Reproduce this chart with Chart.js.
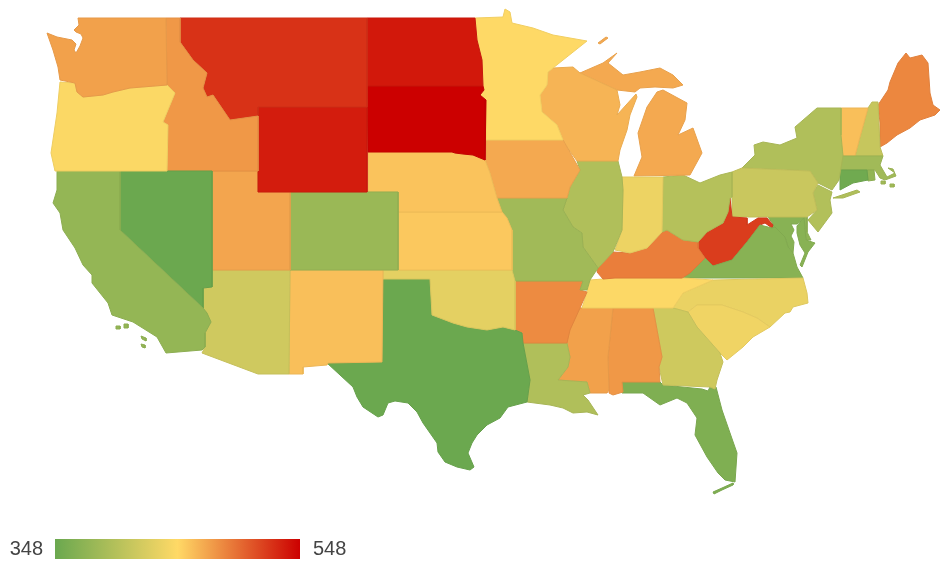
<!DOCTYPE html>
<html><head><meta charset="utf-8">
<script src="https://cdn.jsdelivr.net/npm/chart.js@4/dist/chart.umd.min.js"></script>
<style>
html,body{margin:0;padding:0;background:#fff;overflow:hidden}
#wrap{position:relative;width:948px;height:566px}
canvas{position:absolute;filter:blur(.55px)}
#map{left:0;top:0}
#legend{left:0;top:525px}
</style></head><body>
<div id="wrap"><canvas id="map" width="948" height="566"></canvas><canvas id="legend" width="360" height="41"></canvas></div>
<script>
// Colour axis
const colorDomain=[348,448,548];
const colorStops=['#6aa84f','#ffd966','#cc0000'];
const legendTicks=[348,548];

// Value per shape, read from the shade of each state (islands repeat their state's value)
const stateCodes=['WA','OR','CA','NV','ID','MT','WY','UT','CO','AZ','NM','ND','SD','NE','KS','OK','TX','MN','IA','MO','AR','LA','WI','IL','IN','MI','MIU','ROY','OH','KY','TN','MS','AL','GA','FL','KEYS','SC','NC','VA','WV','PA','NY','LI','MD','MDE','DE','NJ','CT','RI','MA','NAN','MV','VT','NH','ME','CAI1','CAI2','CAI3','CAI4'];
const stateValues=[474,445,376,349,478,525,535,472,380,416,460,537,548,458,456,430,349,447,470,385,484,395,465,395,436,470,470,470,398,490,446,474,478,415,362,362,438,434,368,520,412,395,395,368,368,372,396,352,375,385,385,385,460,410,486,376,376,376,376];

// State outlines in map units (flat x,y lists)
const WA=[78,18,166,18,167,85,130,88,113,92,103,95,83,97,77,92,75,83,60,80,58,67,53,50,47,33,57,37,72,40,76,44,74,50,76,53,80,46,83,38,81,34,76,32,74,30,79,25];
const OR=[60,82,75,83,77,92,83,97,103,95,113,92,130,88,167,85,175,93,163,122,168,125,167,171,55,171,51,153,57,113];
const CA=[57,171,120,171,120,230,203,308,207,313,211,322,205,333,205,347,202,350,166,353,157,337,133,322,112,315,108,303,92,283,92,275,83,265,75,248,63,230,60,213,53,203,57,190];
const NV=[120,171,212,171,212,287,203,288,203,308,120,230];
const ID=[166,18,180,18,180,42,193,60,207,73,203,88,207,97,213,95,230,120,258,116,258,171,167,171,168,125,163,122,175,93,167,85];
const MT=[180,18,367,18,367,107,258,107,258,116,230,120,213,95,207,97,203,88,207,73,193,60,180,42];
const WY=[258,107,367,107,367,192,258,192];
const UT=[212,171,258,171,258,192,290,192,290,270,212,270];
const CO=[290,192,398,192,398,270,290,270];
const AZ=[212,270,290,270,289,374,258,374,202,353,205,347,205,333,211,322,203,308,203,288,212,287];
const NM=[290,270,383,270,382,362,328,363,327,365,303,367,303,374,289,374];
const ND=[367,18,475,18,477,40,482,60,483,86,367,86];
const SD=[367,86,483,86,484,90,480,95,486,100,485,147,485,160,473,155,463,154,455,153,452,152,368,152];
const NE=[368,152,452,152,455,153,463,154,473,155,485,160,490,173,497,198,502,212,398,212,398,192,368,192];
const KS=[398,212,502,212,507,218,512,230,512,270,398,270];
const OK=[383,270,512,270,515,281,515,330,503,327,487,330,467,327,453,323,432,315,430,279,383,279];
const TX=[383,279,430,279,432,315,453,323,467,327,487,330,503,327,515,330,522,333,523,343,530,380,527,402,508,407,500,418,487,425,477,435,472,443,468,453,474,467,470,470,457,467,445,462,438,452,437,443,423,423,417,412,408,403,395,401,388,403,383,415,378,417,363,407,357,397,353,387,327,363,382,362];
const MN=[475,18,503,17,505,9,510,12,512,23,533,28,553,35,587,41,553,68,548,72,547,85,540,95,542,112,557,125,563,140,486,140,486,100,480,95,484,90,483,85,482,60,477,40];
const IA=[486,140,563,140,567,147,580,170,570,187,567,198,497,198,490,173,485,160];
const MO=[497,198,567,198,563,210,573,227,582,233,583,247,598,268,590,280,587,290,580,290,583,281,515,281,512,270,512,230,507,218,502,212];
const AR=[515,281,583,281,580,290,587,292,580,308,570,330,567,343,523,343,522,333,515,330];
const LA=[523,343,567,343,570,357,568,367,558,380,587,382,590,393,583,395,588,400,598,415,587,412,573,413,563,408,550,405,527,402,530,380];
const WI=[553,68,573,67,580,73,617,90,620,105,617,115,636,94,637,97,630,115,627,130,620,150,618,161,577,161,567,147,563,140,557,125,542,112,540,95,547,85,548,72];
const IL=[567,198,563,210,573,227,582,233,583,247,598,268,613,252,622,230,623,190,622,177,618,161,577,161,580,170,570,187];
const IN=[622,177,663,177,662,232,647,248,630,253,615,250,622,230,623,190];
const MI=[663,90,687,103,685,120,678,135,693,128,702,153,690,175,634,176,642,157,638,133,647,107,657,92];
const MIU=[580,73,603,63,617,53,608,63,623,75,640,72,660,68,673,75,683,85,673,88,655,87,640,88,635,92,617,90];
const ROY=[598,43,606,37,608,38,600,44];
const OH=[663,177,683,175,700,183,720,175,732,172,732,197,730,198,728,212,723,223,707,232,698,242,683,240,667,230,662,232];
const KY=[598,268,613,252,630,253,647,248,662,232,667,230,683,240,698,242,698,248,705,258,690,273,682,278,615,278,603,279,597,272];
const TN=[590,280,603,279,615,278,683,278,713,280,683,293,673,308,582,308,587,292];
const MS=[580,308,613,308,608,357,609,390,607,393,590,393,587,382,558,380,568,367,570,357,567,343,567,333,573,320];
const AL=[613,308,653,308,662,357,659,367,660,382,622,382,623,392,613,395,609,393,609,390,608,357];
const GA=[653,308,673,308,688,312,697,327,720,353,723,362,717,380,715,389,710,387,663,385,659,367,662,357];
const FL=[622,382,660,382,663,385,702,389,708,391,710,387,716,387,722,410,730,433,737,453,735,482,725,480,718,473,707,457,695,435,697,418,687,403,677,398,660,405,643,393,622,393];
const KEYS=[713,492,722,488,733,483,733,485,722,490,714,494];
const SC=[688,312,697,305,722,305,743,312,757,318,770,327,753,337,743,347,727,360,720,353,697,327];
const NC=[713,280,803,278,807,293,808,303,793,307,790,312,785,313,770,327,757,318,743,312,722,305,697,305,688,312,673,308,683,293];
const VA=[683,278,705,258,713,266,732,260,747,242,760,225,772,228,775,227,785,237,788,247,793,253,797,267,803,278];
const WV=[730,198,732,217,747,218,747,225,758,218,767,218,773,225,772,228,765,223,760,225,747,242,732,260,713,266,705,258,698,248,698,242,707,232,723,223,728,212];
const PA=[732,172,742,168,810,171,818,183,813,193,817,210,807,217,732,217];
const NY=[742,168,755,155,754,145,763,142,780,145,797,138,795,127,817,108,841,108,841,135,843,156,839,180,832,190,818,183,810,171];
const LI=[833,198,857,190,860,192,843,198];
const MD=[768,217,805,217,797,224,791,224,794,230,791,236,794,242,793,253,788,247,785,237,775,227,772,228,773,224];
const MDE=[804,217,806,240,815,243,808,252,802,267,800,265,805,253,800,245,797,233,797,226];
const DE=[804,217,807,217,807,232,811,240,806,240];
const NJ=[818,185,832,192,830,200,832,213,818,232,808,220,817,210,813,193];
const CT=[840,170,867,170,868,180,853,183,840,190];
const RI=[867,170,874,170,875,180,868,181];
const MA=[841,156,883,156,880,165,887,177,895,173,888,168,893,169,896,176,885,180,880,178,875,170,840,170];
const NAN=[890,184,894,184,894,187,890,187];
const MV=[881,181,885,181,885,184,881,184];
const VT=[841,108,868,108,860,137,855,156,843,156,840,135];
const NH=[868,108,872,102,878,102,880,147,883,156,855,156,860,137];
const ME=[878,105,888,90,890,82,898,63,906,53,910,58,922,55,928,63,930,93,933,105,940,110,935,115,920,120,910,128,897,135,887,143,880,147,880,123];
const CAI1=[116,326,120,326,120,329,116,329];
const CAI2=[124,324,128,324,128,328,124,328];
const CAI3=[141,336,146,338,146,341,142,339];
const CAI4=[141,344,145,345,145,348,142,347];

const outlines={WA,OR,CA,NV,ID,MT,WY,UT,CO,AZ,NM,ND,SD,NE,KS,OK,TX,MN,IA,MO,AR,LA,WI,IL,IN,MI,MIU,ROY,OH,KY,TN,MS,AL,GA,FL,KEYS,SC,NC,VA,WV,PA,NY,LI,MD,MDE,DE,NJ,CT,RI,MA,NAN,MV,VT,NH,ME,CAI1,CAI2,CAI3,CAI4};

function hex(c){return [1,3,5].map(i=>parseInt(c.substr(i,2),16));}
function shade(v,k){
  let i=v<colorDomain[1]?0:1;
  const t=(v-colorDomain[i])/(colorDomain[i+1]-colorDomain[i]);
  const a=hex(colorStops[i]),b=hex(colorStops[i+1]);
  const c=a.map((p,j)=>Math.round((p+(b[j]-p)*t)*k));
  return `rgb(${c[0]},${c[1]},${c[2]})`;
}
function points(flat){
  const p=[];
  for(let i=0;i<flat.length;i+=2)p.push({x:flat[i],y:flat[i+1]});
  p.push({x:flat[0],y:flat[1]});
  return p;
}
const datasets=stateCodes.map((code,i)=>({
  label:code,
  data:points(outlines[code]),
  showLine:true,fill:'shape',tension:0,pointRadius:0,
  backgroundColor:shade(stateValues[i],1),
  borderColor:shade(stateValues[i],.95),
  borderWidth:1,borderJoinStyle:'round'
}));
new Chart(document.getElementById('map'),{
  type:'scatter',
  data:{datasets},
  options:{
    responsive:false,animation:false,devicePixelRatio:1,
    layout:{padding:0},
    plugins:{legend:{display:false},tooltip:{enabled:false}},
    scales:{
      x:{type:'linear',display:false,min:0,max:948},
      y:{type:'linear',display:false,min:0,max:566,reverse:true}
    }
  }
});
const legendLabels=['range'];
const legendRange=[[legendTicks[0],legendTicks[1]]];
new Chart(document.getElementById('legend'),{
  type:'bar',
  data:{labels:legendLabels,datasets:[{
    data:legendRange,barPercentage:1,categoryPercentage:1,borderWidth:0,
    backgroundColor(ctx){
      const a=ctx.chart.chartArea;
      if(!a)return colorStops[0];
      const g=ctx.chart.ctx.createLinearGradient(a.left,0,a.right,0);
      colorStops.forEach((c,i)=>g.addColorStop((colorDomain[i]-colorDomain[0])/(colorDomain[2]-colorDomain[0]),c));
      return g;
    }
  }]},
  options:{
    indexAxis:'y',responsive:false,animation:false,devicePixelRatio:1,
    layout:{padding:{left:55,right:60,top:14,bottom:7}},
    plugins:{legend:{display:false},tooltip:{enabled:false}},
    scales:{
      x:{type:'linear',display:false,min:legendTicks[0],max:legendTicks[1]},
      y:{display:false}
    }
  },
  plugins:[{
    id:'endLabels',
    afterDraw(chart){
      const c=chart.ctx,xs=chart.scales.x,cy=(chart.chartArea.top+chart.chartArea.bottom)/2+.5;
      c.save();c.font='20px "Liberation Sans"';c.fillStyle='#444';c.textBaseline='middle';
      c.textAlign='right';c.fillText(String(legendTicks[0]),xs.getPixelForValue(legendTicks[0])-12,cy);
      c.textAlign='left';c.fillText(String(legendTicks[1]),xs.getPixelForValue(legendTicks[1])+13,cy);
      c.restore();
    }
  }]
});
</script></body></html>
